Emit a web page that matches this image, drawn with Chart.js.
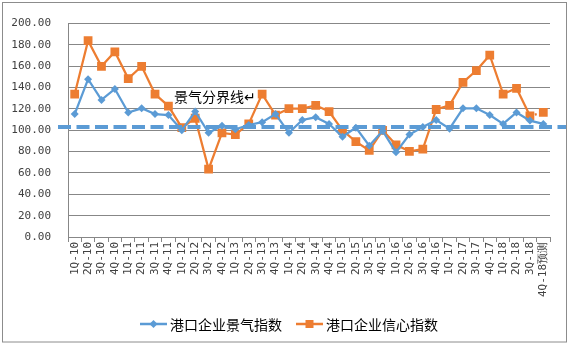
<!DOCTYPE html>
<html>
<head>
<meta charset="utf-8">
<script src="https://cdn.jsdelivr.net/npm/chart.js@4"></script>
<style>
  html, body { margin: 0; padding: 0; background: #fff; }
  #wrap { width: 570px; height: 348px; }
</style>
</head>
<body>
<div id="wrap"><canvas id="chart" width="570" height="348"></canvas></div>
<script>
const quarters = [
  "1Q-10", "2Q-10", "3Q-10", "4Q-10",
  "1Q-11", "2Q-11", "3Q-11", "4Q-11",
  "1Q-12", "2Q-12", "3Q-12", "4Q-12",
  "1Q-13", "2Q-13", "3Q-13", "4Q-13",
  "1Q-14", "2Q-14", "3Q-14", "4Q-14",
  "1Q-15", "2Q-15", "3Q-15", "4Q-15",
  "1Q-16", "2Q-16", "3Q-16", "4Q-16",
  "1Q-17", "2Q-17", "3Q-17", "4Q-17",
  "1Q-18", "2Q-18", "3Q-18", "4Q-18预测"
];

// 港口企业景气指数
const prosperity = [
  115.2, 147.9, 128.5, 138.8, 116.7, 120.6, 115.2, 114.3,
  100.0, 117.6, 97.6, 104.3, 101.0, 105.0, 107.6, 115.2,
  97.6, 109.7, 112.2, 106.0, 94.0, 102.5, 85.5, 99.4,
  79.5, 96.0, 103.0, 109.7, 101.5, 120.6, 120.6, 114.3,
  106.0, 116.7, 109.1, 106.0
];

// 港口企业信心指数
const confidence = [
  134.0, 184.0, 160.0, 173.6, 148.5, 160.0, 134.0, 122.7,
  102.5, 111.3, 63.6, 97.6, 96.0, 106.0, 134.0, 114.3,
  120.4, 120.4, 123.4, 117.6, 100.0, 89.4, 81.2, 100.0,
  86.4, 80.3, 82.4, 119.5, 123.4, 145.0, 156.0, 170.4,
  134.0, 139.4, 113.6, 116.7
];

const boundaryValue = 103;
const boundaryLabel = "景气分界线↵";
const seriesNames = ["港口企业景气指数", "港口企业信心指数"];

const BLUE = "#5B9BD5";
const ORANGE = "#ED7D31";
const GRID = "#878787";
const TEXT = "#404040";
const cjkFont = "'Noto Sans CJK SC', sans-serif";
const numFont = "'DejaVu Sans Mono', monospace";

// dashed boundary line + its label
const boundaryPlugin = {
  id: "boundary",
  afterDatasetsDraw(chart) {
    const ctx = chart.ctx;
    const y = chart.scales.y.getPixelForValue(boundaryValue);
    const area = chart.chartArea;
    ctx.save();
    ctx.strokeStyle = BLUE;
    ctx.lineWidth = 4;
    ctx.setLineDash([13, 5.5]);
    ctx.beginPath();
    ctx.moveTo(area.left - 10, y);
    ctx.lineTo(chart.width - 4, y);
    ctx.stroke();
    ctx.setLineDash([]);
    ctx.fillStyle = "#000";
    ctx.font = "14px " + cjkFont;
    ctx.textBaseline = "middle";
    ctx.fillText(boundaryLabel, 174, 97);
    ctx.restore();
  }
};

// excel-like legend and outer frame
const framePlugin = {
  id: "frame",
  afterDraw(chart) {
    const ctx = chart.ctx;
    ctx.save();
    ctx.strokeStyle = "#8c8c8c";
    ctx.lineWidth = 1;
    ctx.strokeRect(2.5, 2.5, 564, 339.5);

    const items = [
      { x: 140, color: BLUE, style: "diamond", name: seriesNames[0] },
      { x: 296, color: ORANGE, style: "square", name: seriesNames[1] }
    ];
    const ly = 324;
    items.forEach(item => {
      ctx.strokeStyle = item.color;
      ctx.fillStyle = item.color;
      ctx.lineWidth = 2.5;
      ctx.beginPath();
      ctx.moveTo(item.x, ly);
      ctx.lineTo(item.x + 27, ly);
      ctx.stroke();
      const cx = item.x + 13.5;
      ctx.beginPath();
      if (item.style === "diamond") {
        ctx.moveTo(cx, ly - 4);
        ctx.lineTo(cx + 4, ly);
        ctx.lineTo(cx, ly + 4);
        ctx.lineTo(cx - 4, ly);
        ctx.closePath();
      } else {
        ctx.rect(cx - 4, ly - 4, 8, 8);
      }
      ctx.fill();
      ctx.fillStyle = "#000";
      ctx.font = "14px " + cjkFont;
      ctx.textBaseline = "middle";
      ctx.fillText(item.name, item.x + 30, ly + 1);
    });
    ctx.restore();
  }
};

new Chart(document.getElementById("chart"), {
  type: "line",
  data: {
    labels: quarters,
    datasets: [
      {
        label: seriesNames[0],
        data: prosperity,
        borderColor: BLUE,
        backgroundColor: BLUE,
        borderWidth: 2.25,
        pointStyle: "rectRot",
        pointRadius: 4,
        pointBorderWidth: 0,
        tension: 0
      },
      {
        label: seriesNames[1],
        data: confidence,
        borderColor: ORANGE,
        backgroundColor: ORANGE,
        borderWidth: 2.25,
        pointStyle: "rect",
        pointRadius: 6.2,
        pointBorderWidth: 0,
        tension: 0,
        segment: {
          // last (forecast) segment is dotted
          borderDash: c => c.p1DataIndex === quarters.length - 1 ? [2, 3] : undefined
        }
      }
    ]
  },
  options: {
    responsive: false,
    animation: false,
    layout: { padding: { left: 0, top: 17, right: 20, bottom: 0 } },
    plugins: {
      legend: { display: false },
      tooltip: { enabled: false }
    },
    scales: {
      x: {
        offset: true,
        grid: {
          offset: true,
          drawOnChartArea: false,
          drawTicks: true,
          tickLength: 5,
          color: GRID
        },
        border: { color: GRID, width: 1 },
        ticks: {
          autoSkip: false,
          minRotation: 90,
          maxRotation: 90,
          padding: 0,
          color: TEXT,
          font: { family: numFont, size: 11 }
        },
        afterFit(scale) { scale.height = 111; }
      },
      y: {
        min: 0,
        max: 200,
        grid: { color: GRID, lineWidth: 1, drawTicks: false },
        border: { color: GRID, width: 1 },
        ticks: {
          stepSize: 20,
          padding: 17,
          color: TEXT,
          font: { family: numFont, size: 11 },
          callback: v => v.toFixed(2)
        },
        afterFit(scale) { scale.width = 68; }
      }
    }
  },
  plugins: [boundaryPlugin, framePlugin]
});
</script>
</body>
</html>
